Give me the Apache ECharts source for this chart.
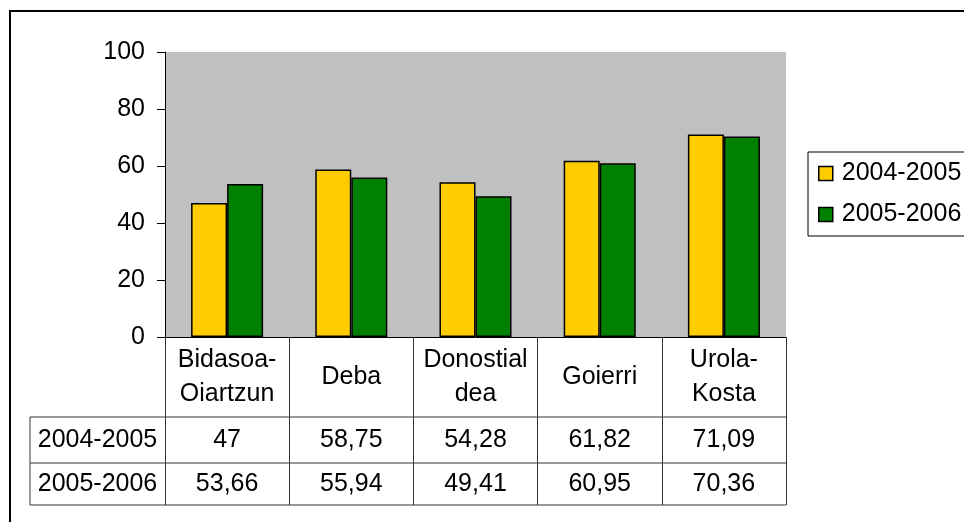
<!DOCTYPE html>
<html>
<head>
<meta charset="utf-8">
<script src="https://cdn.jsdelivr.net/npm/echarts@6/dist/echarts.min.js"></script>
<style>
  html, body { margin: 0; padding: 0; background: #fff; }
  #chart { width: 964px; height: 522px; }
</style>
</head>
<body>
<div id="chart"></div>
<script>
// data
var categories = ["Bidasoa-\nOiartzun", "Deba", "Donostial\ndea", "Goierri", "Urola-\nKosta"];
var seriesNames = ["2004-2005", "2005-2006"];
var values2004 = [47, 58.75, 54.28, 61.82, 71.09];
var values2005 = [53.66, 55.94, 49.41, 60.95, 70.36];
var yTicks = { min: 0, max: 100, step: 20 };

var FONT = "'Liberation Sans', Arial, sans-serif";
var FS = 25;
var gridLeft = 165, gridTop = 52, gridW = 621, gridH = 285;
var axisY = gridTop + gridH;
var row1 = 417, row2 = 463, row3 = 505, tableLeft = 30;

function fmt(v) { return String(v).replace(".", ","); }

var chart = echarts.init(document.getElementById("chart"));

var lineStyle = { stroke: "#333", lineWidth: 1 };

var option = {
  backgroundColor: "#fff",
  textStyle: { fontFamily: FONT },
  grid: {
    left: gridLeft, top: gridTop, width: gridW, height: gridH,
    show: true, backgroundColor: "#C0C0C0", borderWidth: 0
  },
  legend: {
    orient: "vertical",
    left: 808, top: 152,
    padding: [9, 12, 9, 10],
    itemGap: 16,
    borderColor: "#000", borderWidth: 1,
    icon: "rect", itemWidth: 14, itemHeight: 14,
    itemStyle: { borderColor: "#000", borderWidth: 1.5 },
    textStyle: { fontSize: FS, color: "#000", fontFamily: FONT, padding: [0, 0, 0, 4] },
    data: seriesNames
  },
  xAxis: [
    {
      type: "category",
      data: categories,
      axisLine: { lineStyle: { color: "#000", width: 1 } },
      axisTick: { show: true, interval: 0, length: row3 - axisY, lineStyle: { color: "#333" } },
      axisLabel: {
        interval: 0, fontSize: FS, color: "#000", fontFamily: FONT,
        lineHeight: 34, verticalAlign: "middle", margin: 40
      }
    },
    {
      type: "category",
      data: values2004.map(fmt),
      position: "bottom",
      axisLine: { show: false }, axisTick: { show: false },
      axisLabel: { interval: 0, fontSize: FS, color: "#000", fontFamily: FONT, verticalAlign: "middle", margin: (row1 + row2) / 2 - axisY }
    },
    {
      type: "category",
      data: values2005.map(fmt),
      position: "bottom",
      axisLine: { show: false }, axisTick: { show: false },
      axisLabel: { interval: 0, fontSize: FS, color: "#000", fontFamily: FONT, verticalAlign: "middle", margin: (row2 + row3) / 2 - axisY }
    }
  ],
  yAxis: {
    type: "value",
    min: yTicks.min, max: yTicks.max, interval: yTicks.step,
    axisLine: { show: true, lineStyle: { color: "#000" } },
    axisTick: { show: true, length: 8, lineStyle: { color: "#000" } },
    axisLabel: { fontSize: FS, color: "#000", fontFamily: FONT, margin: 20 },
    splitLine: { show: false }
  },
  series: [
    {
      name: seriesNames[0], type: "bar", data: values2004,
      barGap: "0%", barCategoryGap: "42%",
      itemStyle: { color: "#FFCC00", borderColor: "#000", borderWidth: 1.5 }
    },
    {
      name: seriesNames[1], type: "bar", data: values2005,
      itemStyle: { color: "#008000", borderColor: "#000", borderWidth: 1.5 }
    }
  ],
  graphic: [
    { type: "rect", shape: { x: 10, y: 11, width: 1000, height: 540 }, style: { fill: null, stroke: "#000", lineWidth: 2 }, silent: true },
    { type: "line", shape: { x1: tableLeft, y1: row1, x2: gridLeft + gridW, y2: row1 }, style: lineStyle },
    { type: "line", shape: { x1: tableLeft, y1: row2, x2: gridLeft + gridW, y2: row2 }, style: lineStyle },
    { type: "line", shape: { x1: tableLeft, y1: row3, x2: gridLeft + gridW, y2: row3 }, style: lineStyle },
    { type: "line", shape: { x1: tableLeft, y1: row1, x2: tableLeft, y2: row3 }, style: lineStyle },
    { type: "text", x: (tableLeft + gridLeft) / 2, y: (row1 + row2) / 2,
      style: { text: seriesNames[0], fontSize: FS, fontFamily: FONT, fill: "#000", align: "center", verticalAlign: "middle" } },
    { type: "text", x: (tableLeft + gridLeft) / 2, y: (row2 + row3) / 2,
      style: { text: seriesNames[1], fontSize: FS, fontFamily: FONT, fill: "#000", align: "center", verticalAlign: "middle" } }
  ]
};

chart.setOption(option);
</script>
</body>
</html>
